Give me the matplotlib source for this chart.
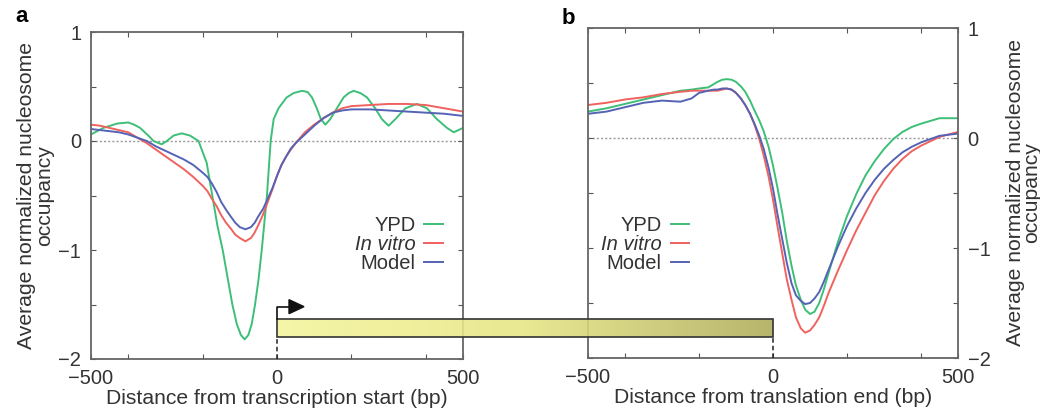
import numpy as np
import matplotlib
matplotlib.use("Agg")
import matplotlib.pyplot as plt
from matplotlib.colors import LinearSegmentedColormap
from matplotlib.patches import Rectangle, Polygon

plt.rcParams['font.family'] = ['Liberation Sans', 'DejaVu Sans']

# Panel a: around transcription start
x_a_ypd = [-500, -467, -430, -400, -384, -368, -346, -332, -310, -296, -278, -256, -234,
           -211, -189, -174, -160, -146, -133, -120, -108, -97, -87, -77, -68, -59, -50,
           -41, -34, -27, -22, -17, -9, 4, 26, 45, 67, 82, 94, 107, 118, 130, 143, 161,
           179, 193, 206, 224, 242, 264, 282, 300, 318, 345, 376, 403, 430, 457, 475, 500]
y_a_ypd = [0.06, 0.12, 0.16, 0.17, 0.15, 0.12, 0.05, 0.0, -0.03, 0.0, 0.05, 0.07, 0.05,
           0.0, -0.2, -0.5, -0.78, -1.0, -1.25, -1.5, -1.68, -1.78, -1.82, -1.78, -1.68,
           -1.5, -1.28, -1.0, -0.75, -0.5, -0.25, 0.0, 0.2, 0.3, 0.4, 0.44, 0.46, 0.45,
           0.4, 0.3, 0.2, 0.15, 0.2, 0.3, 0.4, 0.44, 0.46, 0.44, 0.4, 0.3, 0.2, 0.14, 0.2,
           0.3, 0.34, 0.3, 0.2, 0.12, 0.08, 0.12]

x_a = [-500, -475, -450, -425, -400, -375, -350, -325, -300, -275, -250, -225, -200, -187,
       -175, -162, -150, -137, -125, -112, -100, -85, -70, -60, -50, -37, -25, -12, 0, 12,
       25, 37, 50, 75, 100, 125, 150, 175, 200, 250, 300, 350, 400, 450, 500]
y_a_vitro = [0.15, 0.14, 0.12, 0.10, 0.08, 0.03, -0.02, -0.08, -0.14, -0.20, -0.26, -0.33,
             -0.41, -0.46, -0.53, -0.60, -0.68, -0.75, -0.80, -0.86, -0.89, -0.92, -0.89,
             -0.84, -0.77, -0.67, -0.56, -0.44, -0.32, -0.22, -0.14, -0.08, -0.02, 0.08,
             0.15, 0.21, 0.26, 0.30, 0.32, 0.33, 0.34, 0.34, 0.33, 0.30, 0.27]
y_a_model = [0.11, 0.10, 0.09, 0.08, 0.06, 0.03, 0.0, -0.05, -0.09, -0.13, -0.17, -0.22,
             -0.29, -0.33, -0.39, -0.47, -0.56, -0.63, -0.69, -0.75, -0.79, -0.81, -0.79,
             -0.75, -0.69, -0.62, -0.53, -0.43, -0.32, -0.22, -0.14, -0.07, -0.02, 0.06,
             0.14, 0.21, 0.26, 0.28, 0.29, 0.29, 0.28, 0.27, 0.26, 0.25, 0.23]

# Panel b: around translation end
x_b = [-500, -450, -400, -350, -300, -250, -220, -200, -175, -160, -150, -137, -125, -112,
       -100, -87, -75, -62, -50, -37, -25, -12, 0, 12, 25, 37, 50, 62, 75, 87, 100, 112,
       125, 137, 150, 175, 200, 225, 250, 275, 300, 325, 350, 375, 400, 450, 500]
y_b_ypd = [0.24, 0.27, 0.31, 0.35, 0.39, 0.43, 0.44, 0.45, 0.46, 0.49, 0.51, 0.53, 0.535,
           0.53, 0.51, 0.47, 0.42, 0.34, 0.25, 0.16, 0.06, -0.08, -0.25, -0.45, -0.68,
           -0.93, -1.16, -1.34, -1.47, -1.56, -1.60, -1.58, -1.50, -1.38, -1.23, -0.95,
           -0.71, -0.51, -0.34, -0.21, -0.10, -0.01, 0.055, 0.10, 0.13, 0.18, 0.18]
y_b_vitro = [0.30, 0.32, 0.35, 0.37, 0.40, 0.42, 0.43, 0.43, 0.43, 0.43, 0.43, 0.44, 0.45,
             0.44, 0.41, 0.36, 0.30, 0.22, 0.12, -0.01, -0.16, -0.35, -0.56, -0.80, -1.05,
             -1.28, -1.47, -1.63, -1.73, -1.77, -1.75, -1.70, -1.63, -1.53, -1.41, -1.21,
             -1.02, -0.84, -0.68, -0.52, -0.39, -0.28, -0.19, -0.12, -0.07, 0.01, 0.055]
y_b_model = [0.22, 0.24, 0.28, 0.32, 0.34, 0.33, 0.36, 0.41, 0.43, 0.44, 0.44, 0.45, 0.45,
             0.44, 0.41, 0.36, 0.30, 0.22, 0.13, 0.02, -0.10, -0.27, -0.46, -0.69, -0.92,
             -1.13, -1.32, -1.43, -1.48, -1.51, -1.50, -1.46, -1.40, -1.31, -1.20, -0.99,
             -0.80, -0.64, -0.50, -0.38, -0.28, -0.20, -0.13, -0.08, -0.04, 0.02, 0.04]

labels = ['YPD', 'In vitro', 'Model']
colors = ['#3dbf78', '#f0625e', '#5563b5']

W, H = 1040, 417
fig = plt.figure(figsize=(W / 100, H / 100), dpi=100)
ax_a = fig.add_axes([91 / W, 1 - 359 / H, 372 / W, 327 / H])
ax_b = fig.add_axes([588 / W, 1 - 358 / H, 370 / W, 330 / H])

ylabel = 'Average normalized nucleosome\noccupancy'
fs = 14.5
fs_lab = 15.2
tc = '#333333'

def style(ax):
    ax.set_xlim(-500, 500)
    ax.set_ylim(-2, 1)
    ax.set_xticks([-500, 0, 500])
    ax.set_xticks([-400, -200, 200, 400], minor=True)
    ax.set_yticks([-2, -1, 0, 1])
    ax.set_yticks([-1.5, -0.5, 0.5], minor=True)
    ax.set_xticklabels(['\u2212500', '0', '500'])
    ax.set_yticklabels(['\u22122', '\u22121', '0', '1'])
    ax.tick_params(which='both', direction='in', top=True, right=True, length=3.5,
                   width=0.8, color='#555555', labelsize=fs, labelcolor=tc)
    ax.tick_params(axis='y', pad=7)
    ax.tick_params(axis='x', pad=7)
    for s in ax.spines.values():
        s.set_color('#666666')
        s.set_linewidth(1.3)
    ax.axhline(0, color='#999999', lw=1.0, ls=(0, (1.5, 1.5)), zorder=1)
    ax.patch.set_alpha(0)

style(ax_a)
style(ax_b)

ax_a.plot(x_a_ypd, y_a_ypd, color=colors[0], lw=1.4, label=labels[0])
ax_a.plot(x_a, y_a_vitro, color=colors[1], lw=1.4, label=labels[1])
ax_a.plot(x_a, y_a_model, color=colors[2], lw=1.4, label=labels[2])

ax_b.plot(x_b, y_b_ypd, color=colors[0], lw=1.4, label=labels[0])
ax_b.plot(x_b, y_b_vitro, color=colors[1], lw=1.4, label=labels[1])
ax_b.plot(x_b, y_b_model, color=colors[2], lw=1.4, label=labels[2])

ax_a.set_xlabel('Distance from transcription start (bp)', fontsize=fs_lab, color=tc,
                labelpad=1)
ax_b.set_xlabel('Distance from translation end (bp)', fontsize=fs_lab, color=tc,
                labelpad=1)
ax_a.set_ylabel(ylabel, fontsize=fs_lab, color=tc, labelpad=3, linespacing=0.95)
ax_b.yaxis.set_label_position('right')
ax_b.yaxis.tick_right()
ax_b.tick_params(which='both', left=True)
ax_b.set_ylabel(ylabel, fontsize=fs_lab, color=tc, labelpad=11, linespacing=0.85)

for ax, anchor in [(ax_a, (0.945, 0.35)), (ax_b, (0.272, 0.345))]:
    leg = ax.legend(loc='center right', bbox_to_anchor=anchor, frameon=False,
                    markerfirst=False, fontsize=fs, handlelength=0.9, handletextpad=0.45,
                    labelspacing=0.0, borderpad=0, borderaxespad=0)
    for t in leg.get_texts():
        t.set_color(tc)
    leg.get_texts()[1].set_fontstyle('italic')

fig.text(15 / W, 1 - 17 / H, 'a', fontsize=16, fontweight='bold', va='center', ha='left')
fig.text(562 / W, 1 - 18 / H, 'b', fontsize=16, fontweight='bold', va='center', ha='left')

# Gene bar spanning from transcription start (panel a) to translation end (panel b)
ov = fig.add_axes([0, 0, 1, 1])
ov.axis('off')
x0 = ax_a.transData.transform((0, 0))[0]
x1 = ax_b.transData.transform((0, 0))[0]
y_top = ax_a.transData.transform((0, -1.63))[1]
y_bot = ax_a.transData.transform((0, -1.795))[1]
ya_bottom = ax_a.transData.transform((0, -2))[1]
yb_bottom = ax_b.transData.transform((0, -2))[1]

cmap = LinearSegmentedColormap.from_list('gene', ['#f5f59c', '#e6e684', '#aeab58'])
grad = np.linspace(0, 1, 256).reshape(1, -1)
ov.imshow(grad, extent=[x0, x1, y_bot, y_top], aspect='auto', cmap=cmap, alpha=0.88,
          interpolation='bicubic')
ov.add_patch(Rectangle((x0, y_bot), x1 - x0, y_top - y_bot, fill=False,
                       edgecolor='#333333', lw=1.2))
ov.set_xlim(0, W)
ov.set_ylim(0, H)

ov.plot([x0, x0], [ya_bottom, y_bot], color='#222222', lw=1.1, ls=(0, (3, 2)))
ov.plot([x1, x1], [yb_bottom, y_bot], color='#222222', lw=1.1, ls=(0, (3, 2)))

# Transcription start arrow
ya = y_top + 12
ov.plot([x0, x0, x0 + 14], [y_top, ya, ya], color='#111111', lw=1.2)
ov.add_patch(Polygon([[x0 + 12, ya - 7], [x0 + 12, ya + 7], [x0 + 27, ya]],
                     closed=True, color='#111111'))

fig.savefig('out.png', dpi=100)
